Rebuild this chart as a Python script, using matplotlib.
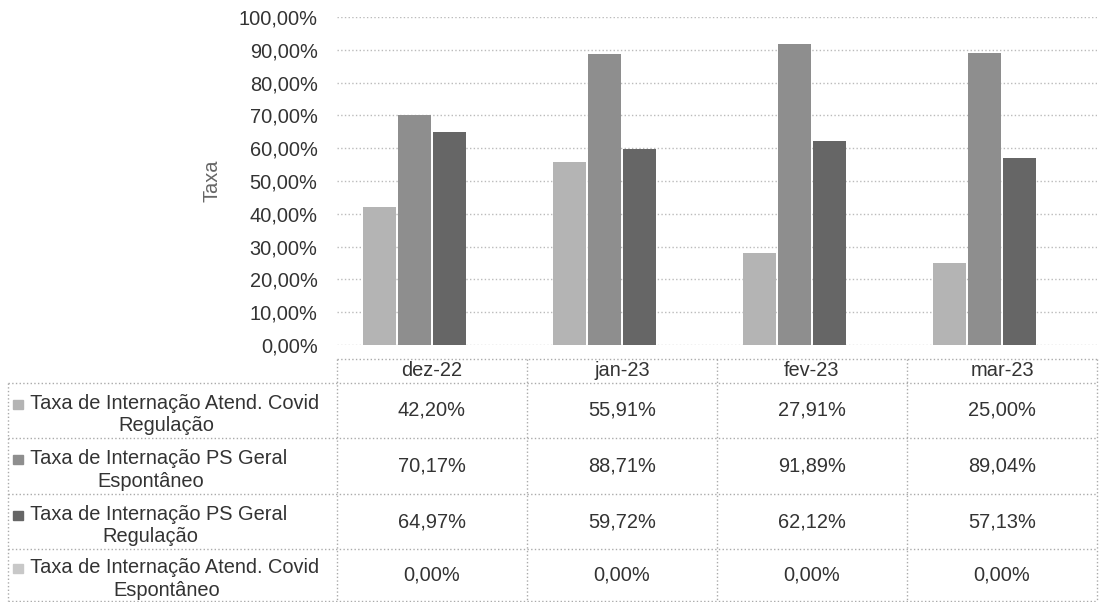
import numpy as np
import matplotlib
matplotlib.use("Agg")
import matplotlib.pyplot as plt
from matplotlib.ticker import FuncFormatter

plt.rcParams['font.family'] = ['Liberation Sans', 'DejaVu Sans']

months = ['dez-22', 'jan-23', 'fev-23', 'mar-23']
series_names = ['Taxa de Internação Atend. Covid\nRegulação',
                'Taxa de Internação PS Geral\nEspontâneo',
                'Taxa de Internação PS Geral\nRegulação',
                'Taxa de Internação Atend. Covid\nEspontâneo']
covid_reg = [42.20, 55.91, 27.91, 25.00]
ps_esp = [70.17, 88.71, 91.89, 89.04]
ps_reg = [64.97, 59.72, 62.12, 57.13]
covid_esp = [0.00, 0.00, 0.00, 0.00]
all_series = [covid_reg, ps_esp, ps_reg, covid_esp]
colors = ['#b4b4b4', '#8e8e8e', '#666666', '#c8c8c8']

fs = 14.4
tc = '#333333'

W, H = 1100, 602
fig = plt.figure(figsize=(W / 100, H / 100), dpi=100)
ax = fig.add_axes([337 / W, 1 - 345 / H, 760 / W, 328 / H])

x = np.arange(len(months))
bw = 0.185
for i, vals in enumerate(all_series):
    ax.bar(x + (i - 1.5) * bw, np.array(vals) / 100, width=bw * 0.93,
           color=colors[i], edgecolor='none', zorder=2)

ax.set_xlim(-0.5, len(months) - 0.5)
ax.set_ylim(0, 1)
ax.set_yticks(np.arange(0, 1.01, 0.1))
ax.yaxis.set_major_formatter(FuncFormatter(lambda v, p: ('%.2f%%' % (v * 100)).replace('.', ',')))
ax.tick_params(axis='y', length=0, labelsize=fs, labelcolor=tc, pad=14)
ax.set_xticks([])
ax.grid(axis='y', color='#bbbbbb', linestyle=':', linewidth=1, zorder=0)
for s in ax.spines.values():
    s.set_visible(False)
ax.set_ylabel('Taxa', fontsize=fs, color='#666666', labelpad=12)

# data table below the plot
tb = fig.add_axes([0, 0, 1, 1])
tb.set_xlim(0, W)
tb.set_ylim(H, 0)
tb.axis('off')
tb.patch.set_alpha(0)

col_edges = [337, 527, 717, 907, 1097]
row_edges = [359, 383, 438, 494, 549, 601]
lc = '#aaaaaa'
ls = ':'
tb.plot([col_edges[0], col_edges[-1]], [row_edges[0]] * 2, color=lc, ls=ls, lw=1)
for y in row_edges[1:]:
    tb.plot([8, col_edges[-1]], [y, y], color=lc, ls=ls, lw=1)
for c in col_edges:
    tb.plot([c, c], [row_edges[0], row_edges[-1]], color=lc, ls=ls, lw=1)
tb.plot([8, 8], [row_edges[1], row_edges[-1]], color=lc, ls=ls, lw=1)

for j, m in enumerate(months):
    cx = (col_edges[j] + col_edges[j + 1]) / 2
    tb.text(cx, (row_edges[0] + row_edges[1]) / 2, m, ha='center', va='center',
            fontsize=fs, color=tc)

for i, name in enumerate(series_names):
    cy = (row_edges[i + 1] + row_edges[i + 2]) / 2
    tb.add_patch(plt.Rectangle((13, cy - 11), 10, 9, color=colors[i]))
    tb.text(14, cy + 4, '   ' + name, ha='left', va='center', multialignment='center',
            fontsize=fs, color=tc, linespacing=1.25)
    for j, v in enumerate(all_series[i]):
        cx = (col_edges[j] + col_edges[j + 1]) / 2
        tb.text(cx, cy, ('%.2f%%' % v).replace('.', ','), ha='center', va='center',
                fontsize=fs, color=tc)

fig.savefig('out.png', dpi=100)
